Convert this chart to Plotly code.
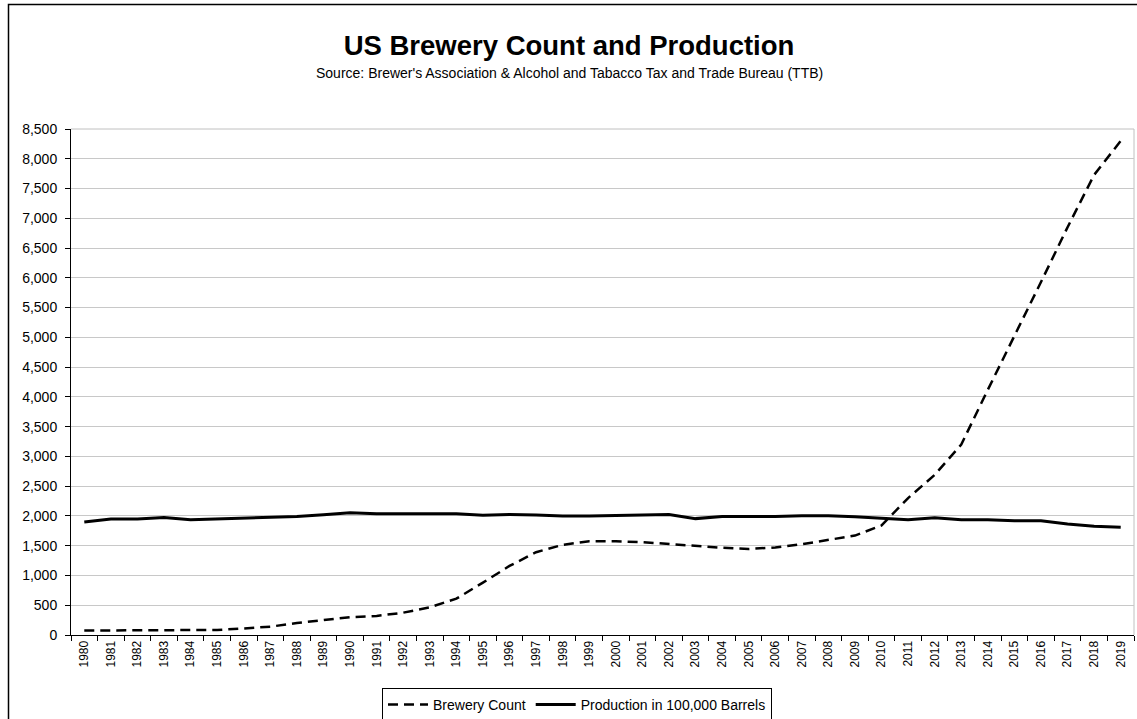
import plotly.graph_objects as go

years = [str(y) for y in range(1980, 2020)]
brewery_count = [75, 75, 75, 75, 75, 85, 110, 140, 200, 250,
                 300, 320, 375, 465, 610, 880, 1160, 1390, 1515, 1575,
                 1575, 1560, 1525, 1490, 1465, 1445, 1470, 1525, 1595, 1670,
                 1840, 2300, 2690, 3200, 4120, 5020, 5930, 6850, 7730, 8300]
production = [1900, 1950, 1950, 1975, 1935, 1950, 1970, 1975, 1990, 2020,
              2055, 2035, 2035, 2035, 2035, 2010, 2025, 2015, 2000, 2000,
              2010, 2010, 2025, 1955, 1990, 1990, 1990, 2005, 2005, 1985,
              1965, 1935, 1970, 1935, 1935, 1920, 1920, 1865, 1825, 1810]
y_ticks = list(range(0, 8501, 500))

FONT = "Liberation Sans, Arial, sans-serif"
W, H = 1137, 719
L, R, T, B = 71, 3, 129, 84
pw, ph = W - L - R, H - T - B

def px(x):
    return (x - L) / pw

def py(y):
    return (H - B - y) / ph

fig = go.Figure()
fig.add_trace(go.Scatter(x=years, y=brewery_count, mode="lines", name="Brewery Count",
                         line=dict(color="black", width=2.5, dash="10px,6px")))
fig.add_trace(go.Scatter(x=years, y=production, mode="lines", name="Production in 100,000 Barrels",
                         line=dict(color="black", width=3)))

fig.update_layout(
    width=W, height=H,
    margin=dict(l=L, r=R, t=T, b=B, autoexpand=False),
    paper_bgcolor="white", plot_bgcolor="white",
    font=dict(family=FONT, color="black"),
    title=dict(text="<b>US Brewery Count and Production</b>", x=569 / W, xanchor="center",
               y=1 - 45 / H, yanchor="middle", yref="container",
               font=dict(size=27.5, family=FONT, color="black")),
    showlegend=True,
    legend=dict(orientation="h", x=px(577), xanchor="center", y=py(688), yanchor="top",
                bordercolor="black", borderwidth=1, bgcolor="white",
                font=dict(size=14, family=FONT, color="black"),
                itemwidth=40, tracegroupgap=0),
    xaxis=dict(type="category", range=[-0.5, 39.5], tickangle=-90, tickson="boundaries",
               ticks="outside", ticklen=5, tickcolor="black", tickwidth=1,
               showline=True, linecolor="black", linewidth=1, showgrid=False,
               tickfont=dict(size=12, family=FONT, color="black"), fixedrange=True),
    yaxis=dict(range=[0, 8500], tickvals=y_ticks, tickformat=",", ticks="outside", ticklen=5,
               tickcolor="black", showline=True, linecolor="black", linewidth=1,
               showgrid=True, gridcolor="#c8c8c8", gridwidth=1, zeroline=False,
               ticklabelstandoff=5,
               tickfont=dict(size=14, family=FONT, color="black"), fixedrange=True),
    annotations=[dict(text="Source: Brewer's Association & Alcohol and Tabacco Tax and Trade Bureau (TTB)",
                      xref="paper", yref="paper", x=px(569), y=py(73), xanchor="center", yanchor="middle",
                      showarrow=False, font=dict(size=14, family=FONT, color="black"))],
    shapes=[
        dict(type="line", xref="paper", yref="paper", x0=0, x1=1, y0=1, y1=1,
             line=dict(color="#c0c0c0", width=1), layer="below"),
        dict(type="line", xref="paper", yref="paper", x0=1, x1=1, y0=0, y1=1,
             line=dict(color="#c0c0c0", width=1), layer="below"),
        dict(type="rect", xref="paper", yref="paper", x0=px(8.5), x1=px(1145), y0=py(4.5), y1=py(730),
             line=dict(color="black", width=1.5), fillcolor="rgba(0,0,0,0)", layer="below"),
    ],
)

fig.write_html("out.html", config={"displayModeBar": False},
               post_script="document.body.style.margin='0px';")
